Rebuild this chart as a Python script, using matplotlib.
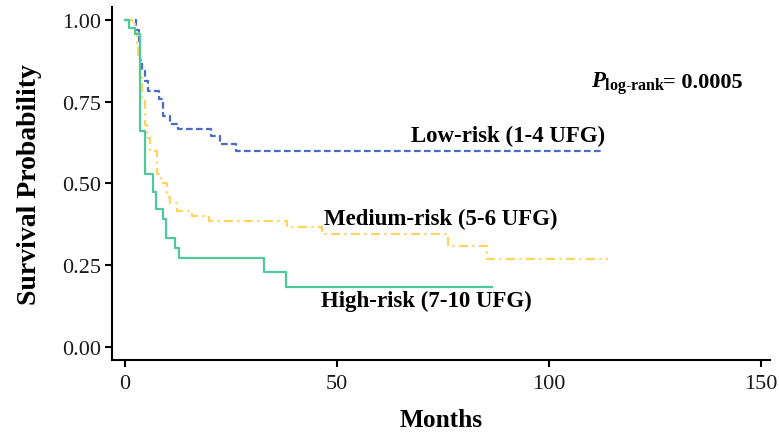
import matplotlib
matplotlib.use("Agg")
import matplotlib.pyplot as plt

# -----------------------
# Data (Kaplan-Meier steps)
# -----------------------
times_low = [0, 2.5, 3.3, 3.5, 3.9, 4.7, 5.5, 7.9, 9.0, 10.6, 12.6, 20.4, 22.4, 26.3, 113]
surv_low = [1.0, 0.97, 0.937, 0.877, 0.845, 0.815, 0.784, 0.758, 0.707, 0.682, 0.667, 0.646, 0.621, 0.600, 0.600]

times_med = [0, 1.6, 2.4, 2.8, 3.1, 3.5, 3.9, 4.7, 5.1, 5.9, 7.5, 8.6, 9.8, 10.6, 12.2, 15.7, 19.7,
             38.1, 46.4, 76.3, 85.3, 114]
surv_med = [1.0, 0.988, 0.96, 0.93, 0.89, 0.83, 0.76, 0.68, 0.64, 0.60, 0.53, 0.50, 0.46, 0.44, 0.417,
            0.40, 0.386, 0.366, 0.346, 0.310, 0.269, 0.269]

times_high = [0, 1.0, 2.4, 3.5, 4.7, 6.7, 7.3, 8.9, 9.7, 11.8, 12.7, 32.8, 38.0, 86.5]
surv_high = [1.0, 0.975, 0.957, 0.662, 0.529, 0.473, 0.422, 0.391, 0.332, 0.303, 0.272, 0.228, 0.184, 0.184]

x_ticks = [0, 50, 100, 150]
y_ticks = [0.00, 0.25, 0.50, 0.75, 1.00]
y_tick_labels = ["0.00", "0.25", "0.50", "0.75", "1.00"]

labels = ["Low-risk (1-4 UFG)", "Medium-risk (5-6 UFG)", "High-risk (7-10 UFG)"]
label_pos = [(90.4, 0.648), (74.5, 0.394), (71.0, 0.141)]

plt.rcParams['font.family'] = ['Liberation Serif', 'DejaVu Serif']
plt.rcParams['mathtext.fontset'] = 'custom'
plt.rcParams['mathtext.rm'] = 'Liberation Serif'
plt.rcParams['mathtext.it'] = 'Liberation Serif:italic:bold'
plt.rcParams['mathtext.bf'] = 'Liberation Serif:bold'

fig = plt.figure(figsize=(7.79, 4.39), dpi=100)
ax = fig.add_axes([0.1438, 0.1777, 0.988 - 0.1438, 0.9818 - 0.1777])

ax.step(times_low, surv_low, where='post', color='#4A6CC3', lw=1.6, dashes=(3, 1.5))
ax.step(times_med, surv_med, where='post', color='#FFD45E', lw=1.6, dashes=(4, 2, 1, 2))
ax.step(times_high, surv_high, where='post', color='#4FC99B', lw=1.6)

for text, (tx, ty) in zip(labels, label_pos):
    ax.text(tx, ty, text, ha='center', va='center', fontsize=16.5, fontweight='bold')

ax.text(110, 0.81, r"$\mathit{P}_{\mathbf{log\text{-}rank}}$", ha='left', va='center', fontsize=16.5)
ax.text(127, 0.81, "= 0.0005", ha='left', va='center', fontsize=16, fontweight='bold')

ax.set_xlim(-3.07, 152.1)
ax.set_ylim(-0.04, 1.04)
ax.set_xticks(x_ticks)
ax.set_yticks(y_ticks)
ax.set_yticklabels(y_tick_labels)
ax.tick_params(axis='both', labelsize=16, width=1.5, length=5, color='black', labelcolor='#1a1a1a')
ax.tick_params(axis='x', pad=5)
ax.tick_params(axis='y', pad=3)

for side in ['top', 'right']:
    ax.spines[side].set_visible(False)
for side in ['left', 'bottom']:
    ax.spines[side].set_linewidth(1.5)

ax.set_xlabel("Months", fontsize=18.3, fontweight='bold', labelpad=11)
ax.set_ylabel("Survival Probability", fontsize=20, fontweight='bold', labelpad=14)

fig.savefig("out.png", dpi=100)
